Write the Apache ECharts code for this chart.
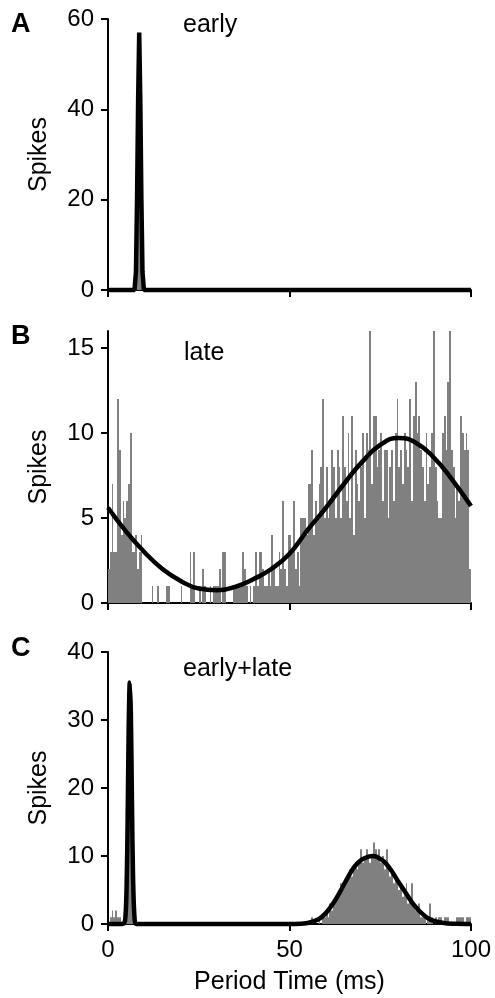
<!DOCTYPE html>
<html>
<head>
<meta charset="utf-8">
<script src="https://cdn.jsdelivr.net/npm/echarts@6/dist/echarts.min.js"></script>
<style>
html,body{margin:0;padding:0;background:#fff;}
#chart{width:495px;height:998px;}
</style>
</head>
<body>
<div id="chart"></div>
<script>
// ---- data ----
var binWidth = 0.5; // ms per histogram bin
var xTicks = [0, 50, 100];
var yTicksA = [0, 20, 40, 60];
var yTicksB = [0, 5, 10, 15];
var yTicksC = [0, 10, 20, 30, 40];

// Panel A histogram (nonzero bins only)
var histABins = [15, 16, 17, 18];
var histACounts = [2, 14, 56, 6];

// Panel B histogram, 200 bins of 0.5 ms
var histB = [
  2,3,7,3,3,12,9,4,6,5,
  6,7,10,3,3,4,2,3,4,0,
  0,0,0,0,1,0,0,1,0,0,
  0,0,1,1,0,0,0,0,0,0,
  1,0,0,0,0,3,1,3,0,0,
  1,0,2,1,0,0,1,0,1,1,
  1,2,0,3,3,0,0,0,0,1,
  1,1,1,1,3,2,1,0,1,0,
  1,3,1,3,3,2,1,1,2,1,
  4,2,1,1,3,2,6,2,1,4,
  4,3,6,2,3,1,5,5,5,4,
  7,7,9,4,6,5,7,8,12,5,
  8,5,6,9,8,5,9,8,5,11,
  8,6,10,5,11,4,9,7,6,8,
  10,5,10,9,16,7,11,11,8,9,
  10,6,9,9,5,8,9,6,10,12,
  8,9,7,10,9,8,12,6,11,13,
  10,11,9,8,6,10,7,8,10,16,
  8,6,5,5,10,11,9,13,16,9,
  8,5,7,6,11,10,9,10,9,2
];

// Panel C histogram, 200 bins of 0.5 ms
var histC = [
  0,1,2,1,2,1,1,0,1,4,
  12,33,35,14,2,0,0,0,0,0,
  0,0,0,0,0,0,0,0,0,0,
  0,0,0,0,0,0,0,0,0,0,
  0,0,0,0,0,0,0,0,0,0,
  0,0,0,0,0,0,0,0,0,0,
  0,0,0,0,0,0,0,0,0,0,
  0,0,0,0,0,0,0,0,0,0,
  0,0,0,0,0,0,0,0,0,0,
  0,0,0,0,0,0,0,0,0,0,
  0,0,0,0,0,0,0,0,0,0,
  0,0,1,0,0,0,1,0,1,1,
  2,1,3,2,3,4,4,5,6,5,
  6,7,7,8,7,8,9,8,9,11,
  9,10,11,10,9,10,12,11,10,11,
  9,10,8,11,9,7,8,6,7,6,
  5,6,4,5,6,3,4,6,3,2,
  2,3,1,1,1,0,1,3,1,0,
  1,0,1,1,0,1,1,1,0,0,
  0,0,1,1,1,1,0,1,1,1
];

// Fitted curves
var curveAX = [0, 7.3, 7.7, 8.0, 8.3, 8.6, 8.9, 9.2, 9.5, 9.9, 100];
var curveAY = [0, 0, 4, 20, 42, 57, 42, 20, 4, 0, 0];

var curveBX = [0, 5, 10, 15, 20, 25, 30, 35, 40, 45, 50, 55, 60, 65, 70, 75, 80, 85, 90, 95, 100];
var curveBY = [5.6, 4.2, 3.0, 2.0, 1.3, 0.85, 0.75, 0.95, 1.4, 2.0, 2.9, 4.3, 5.6, 7.0, 8.3, 9.3, 9.7, 9.4, 8.5, 7.2, 5.7];

var curveCX = [0, 4.0, 4.7, 5.1, 5.4, 5.7, 6.0, 6.3, 6.6, 6.9, 7.3, 7.8, 50, 55, 58, 60, 62, 64, 66, 68, 70, 72, 73, 74, 76, 78, 80, 82, 84, 86, 88, 90, 93, 96, 100];
var curveCY = [0, 0, 0.5, 5, 15, 29, 35.5, 31, 18, 7, 1, 0, 0, 0.15, 0.7, 1.6, 3.0, 4.8, 6.8, 8.5, 9.5, 9.95, 10, 9.9, 9.2, 7.9, 6.2, 4.6, 3.0, 1.8, 0.9, 0.4, 0.12, 0.03, 0];

// ---- build ----
// each histogram item: [binStart, binEnd, count]
function histItems(counts) {
  var out = [];
  counts.forEach(function (c, i) { if (c > 0) out.push([i * binWidth, (i + 1) * binWidth, c]); });
  return out;
}
function histItemsSparse(bins, counts) {
  return bins.map(function (b, i) { return [b * binWidth, (b + 1) * binWidth, counts[i]]; });
}
function zip(xs, ys) { return xs.map(function (x, i) { return [x, ys[i]]; }); }

var FONT = '"Liberation Sans", Arial, sans-serif';
var axisLine = { show: true, onZero: false, lineStyle: { color: '#000', width: 2 } };
var axisTick = { show: true, inside: false, length: 7, lineStyle: { color: '#000', width: 2 } };

function xAxis(idx, showLabels) {
  return {
    type: 'value', gridIndex: idx, min: 0, max: 100, interval: 50,
    axisLine: axisLine, axisTick: axisTick,
    splitLine: { show: false },
    axisLabel: { show: showLabels, color: '#000', fontSize: 24, fontFamily: FONT, margin: 14 },
    name: showLabels ? 'Period Time (ms)' : '',
    nameLocation: 'middle', nameGap: 46,
    nameTextStyle: { color: '#000', fontSize: 25, fontFamily: FONT }
  };
}
function yAxis(idx, max, ticks) {
  return {
    type: 'value', gridIndex: idx, min: 0, max: max,
    axisLine: axisLine,
    axisTick: Object.assign({}, axisTick, { customValues: ticks }),
    splitLine: { show: false },
    axisLabel: { color: '#000', fontSize: 24, fontFamily: FONT, margin: 14, customValues: ticks },
    name: 'Spikes', nameLocation: 'middle', nameRotate: 90, nameGap: 56,
    nameTextStyle: { color: '#000', fontSize: 25, fontFamily: FONT }
  };
}
function bars(idx, data) {
  return {
    type: 'custom', xAxisIndex: idx, yAxisIndex: idx, data: data,
    encode: { x: [0, 1], y: 2 },
    silent: true, z: 2,
    renderItem: function (params, api) {
      var p0 = api.coord([api.value(0), api.value(2)]);
      var p1 = api.coord([api.value(1), 0]);
      var x0 = Math.round(p0[0]);
      var x1 = Math.max(Math.round(p1[0]), x0 + 1);
      return {
        type: 'rect',
        shape: { x: x0, y: p0[1], width: x1 - x0, height: p1[1] - p0[1] },
        style: { fill: '#808080' }
      };
    }
  };
}
function curve(idx, data, smooth) {
  return {
    type: 'line', xAxisIndex: idx, yAxisIndex: idx, data: data,
    showSymbol: false, symbol: 'none', smooth: smooth,
    clip: false, lineStyle: { color: '#000', width: 4.5 }, silent: true, z: 3
  };
}
function txt(text, left, top, size, bold) {
  return { type: 'text', left: left, top: top,
    style: { text: text, fill: '#000', fontSize: size, fontFamily: FONT, fontWeight: bold ? 'bold' : 'normal' } };
}

var chart = echarts.init(document.getElementById('chart'), null, { renderer: 'canvas' });
chart.setOption({
  animation: false,
  backgroundColor: '#fff',
  grid: [
    { left: 108, width: 363, top: 19, height: 271 },
    { left: 108, width: 363, top: 331, height: 272 },
    { left: 108, width: 363, top: 652, height: 272 }
  ],
  xAxis: [xAxis(0, false), xAxis(1, false), xAxis(2, true)],
  yAxis: [yAxis(0, 60, yTicksA), yAxis(1, 16, yTicksB), yAxis(2, 40, yTicksC)],
  series: [
    bars(0, histItemsSparse(histABins, histACounts)),
    curve(0, zip(curveAX, curveAY), false),
    bars(1, histItems(histB)),
    curve(1, zip(curveBX, curveBY), 0.5),
    bars(2, histItems(histC)),
    curve(2, zip(curveCX, curveCY), 0.3)
  ],
  graphic: [
    txt('A', 11, 11, 27, true),
    txt('B', 11, 323, 27, true),
    txt('C', 11, 635, 27, true),
    txt('early', 183, 13, 25, false),
    txt('late', 184, 341, 25, false),
    txt('early+late', 183, 657, 25, false)
  ]
});
</script>
</body>
</html>
